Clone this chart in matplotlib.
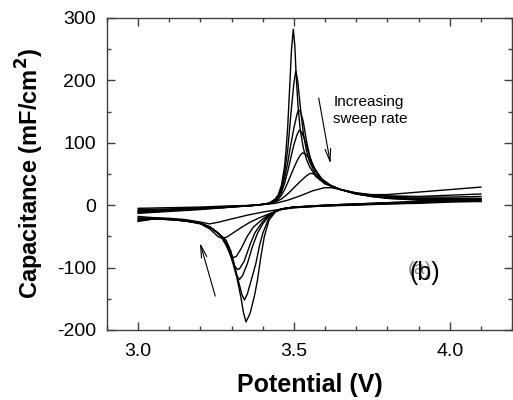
import matplotlib
matplotlib.use('Agg')
import matplotlib.pyplot as plt
from matplotlib.ticker import MultipleLocator, FormatStrFormatter

plt.rcParams['font.family'] = ['Liberation Sans', 'DejaVu Sans']
plt.rcParams['axes.unicode_minus'] = False

# forward (anodic) sweeps, 3.0 -> 4.1 V; one list per sweep rate (slow -> fast)
fwd_x = [
    [3.00, 3.10, 3.20, 3.30, 3.38, 3.42, 3.44, 3.45, 3.46, 3.47, 3.475, 3.48, 3.487, 3.492, 3.498, 3.503, 3.507,
     3.513, 3.52, 3.53, 3.54, 3.55, 3.57, 3.60, 3.65, 3.70, 3.75, 3.80, 3.90, 4.00, 4.10],
    [3.00, 3.10, 3.20, 3.30, 3.38, 3.42, 3.44, 3.45, 3.46, 3.47, 3.48, 3.49, 3.50, 3.506, 3.512, 3.52, 3.53,
     3.54, 3.55, 3.57, 3.60, 3.65, 3.70, 3.75, 3.80, 3.90, 4.00, 4.10],
    [3.00, 3.10, 3.20, 3.30, 3.38, 3.42, 3.44, 3.45, 3.46, 3.47, 3.48, 3.49, 3.50, 3.51, 3.515, 3.521, 3.53,
     3.54, 3.55, 3.56, 3.58, 3.60, 3.65, 3.70, 3.75, 3.80, 3.90, 4.00, 4.10],
    [3.00, 3.10, 3.20, 3.30, 3.38, 3.42, 3.44, 3.45, 3.46, 3.47, 3.48, 3.49, 3.50, 3.51, 3.517, 3.525, 3.535,
     3.545, 3.555, 3.57, 3.59, 3.62, 3.65, 3.70, 3.75, 3.80, 3.90, 4.00, 4.10],
    [3.00, 3.10, 3.20, 3.30, 3.38, 3.42, 3.44, 3.45, 3.46, 3.47, 3.48, 3.49, 3.50, 3.51, 3.52, 3.528, 3.537,
     3.547, 3.557, 3.57, 3.59, 3.62, 3.65, 3.70, 3.75, 3.80, 3.90, 4.00, 4.10],
    [3.00, 3.10, 3.20, 3.30, 3.38, 3.42, 3.44, 3.46, 3.48, 3.50, 3.52, 3.54, 3.552, 3.565, 3.58, 3.60, 3.62,
     3.65, 3.70, 3.75, 3.80, 3.90, 4.00, 4.10],
    [3.00, 3.10, 3.20, 3.30, 3.38, 3.42, 3.44, 3.48, 3.52, 3.56, 3.597, 3.62, 3.64, 3.67, 3.70, 3.75, 3.80,
     3.90, 4.00, 4.10],
]
fwd_y = [
    [-13, -10, -7, -3, 0, 3, 10, 17, 32, 62, 90, 125, 195, 248, 282, 255, 210,
     160, 122, 92, 74, 62, 46, 34, 25, 20, 17, 17, 21, 25, 29],
    [-12, -9, -6, -3, 0, 3, 9, 15, 28, 52, 88, 145, 196, 215, 200, 160, 116,
     88, 70, 49, 35, 25, 19, 16, 15, 14, 16, 18],
    [-11, -8, -6, -3, 0, 3, 8, 14, 25, 43, 68, 97, 124, 146, 153, 150, 134,
     104, 80, 64, 46, 36, 25, 19, 15, 14, 13, 13, 14],
    [-10, -8, -5, -2, 0, 3, 7, 12, 21, 35, 54, 76, 97, 113, 120, 117, 104,
     87, 72, 55, 41, 31, 25, 18, 15, 13, 11, 11, 11],
    [-9, -7, -5, -2, 0, 3, 6, 10, 16, 25, 36, 48, 60, 71, 80, 84, 82,
     76, 67, 56, 42, 31, 25, 18, 14, 12, 10, 9, 9],
    [-7, -6, -4, -2, 0, 2, 5, 10, 18, 28, 38, 47, 51, 50, 44, 36, 30,
     25, 18, 14, 11, 9, 8, 7],
    [-5, -4, -3, -1, 0, 2, 3, 8, 15, 23, 28, 28, 26, 23, 19, 14, 11,
     8, 7, 6],
]

# reverse (cathodic) sweeps, 4.1 -> 3.0 V
rev_x = [
    [4.10, 4.00, 3.90, 3.80, 3.70, 3.60, 3.50, 3.46, 3.44, 3.42, 3.405, 3.394, 3.383, 3.373, 3.36, 3.355, 3.346,
     3.338, 3.33, 3.314, 3.298, 3.282, 3.26, 3.23, 3.20, 3.15, 3.10, 3.05, 3.00],
    [4.10, 4.00, 3.90, 3.80, 3.70, 3.60, 3.50, 3.46, 3.44, 3.42, 3.40, 3.389, 3.378, 3.362, 3.35, 3.341, 3.333,
     3.32, 3.305, 3.29, 3.275, 3.26, 3.23, 3.20, 3.15, 3.10, 3.05, 3.00],
    [4.10, 4.00, 3.90, 3.80, 3.70, 3.60, 3.50, 3.46, 3.44, 3.42, 3.40, 3.383, 3.367, 3.351, 3.335, 3.325, 3.315,
     3.30, 3.285, 3.27, 3.25, 3.23, 3.20, 3.15, 3.10, 3.05, 3.00],
    [4.10, 4.00, 3.90, 3.80, 3.70, 3.60, 3.50, 3.46, 3.44, 3.42, 3.40, 3.375, 3.36, 3.34, 3.325, 3.319, 3.31,
     3.295, 3.28, 3.265, 3.25, 3.23, 3.20, 3.15, 3.10, 3.05, 3.00],
    [4.10, 4.00, 3.90, 3.80, 3.70, 3.60, 3.50, 3.46, 3.44, 3.42, 3.40, 3.37, 3.35, 3.33, 3.315, 3.306, 3.296,
     3.28, 3.265, 3.25, 3.23, 3.20, 3.15, 3.10, 3.05, 3.00],
    [4.10, 4.00, 3.90, 3.80, 3.70, 3.60, 3.50, 3.46, 3.43, 3.39, 3.36, 3.33, 3.30, 3.285, 3.271, 3.258, 3.245,
     3.23, 3.20, 3.15, 3.10, 3.05, 3.00],
    [4.10, 4.00, 3.90, 3.80, 3.70, 3.60, 3.50, 3.45, 3.40, 3.35, 3.30, 3.26, 3.229, 3.20, 3.15, 3.10, 3.05, 3.00],
]
rev_y = [
    [10, 8, 6, 4, 2, 0, -3, -6, -11, -24, -50, -82, -120, -146, -172, -178, -187,
     -172, -148, -109, -74, -56, -46, -35, -29, -25, -23, -22, -24],
    [10, 8, 6, 4, 2, 0, -3, -6, -10, -20, -45, -66, -93, -122, -143, -152, -143,
     -118, -88, -66, -53, -46, -35, -29, -25, -23, -22, -26],
    [9, 7, 5, 3, 2, 0, -3, -6, -10, -17, -30, -45, -66, -93, -113, -119, -112,
     -86, -64, -52, -42, -35, -29, -25, -23, -22, -25],
    [9, 7, 5, 3, 1, -1, -3, -6, -10, -16, -26, -44, -62, -90, -102, -103, -98,
     -78, -60, -49, -42, -35, -29, -25, -23, -21, -23],
    [8, 6, 4, 3, 1, -1, -3, -6, -10, -15, -22, -35, -50, -70, -82, -84, -78,
     -62, -50, -42, -35, -29, -25, -22, -21, -22],
    [7, 6, 4, 2, 1, -1, -4, -7, -12, -20, -27, -36, -46, -51, -53, -51, -45,
     -38, -30, -25, -22, -21, -20],
    [6, 5, 3, 2, 0, -1, -4, -7, -11, -16, -22, -27, -30, -27, -23, -21, -20, -18],
]

fig = plt.figure(figsize=(5.13, 4.0), dpi=100)
ax = fig.add_axes([107 / 513, 70 / 400, 405 / 513, 312 / 400])

for i in range(len(fwd_x)):
    ax.plot(fwd_x[i], fwd_y[i], color='black', lw=1.0)
    ax.plot(rev_x[i], rev_y[i], color='black', lw=1.0)

ax.set_xlim(2.9, 4.2)
ax.set_ylim(-200, 300)
ax.xaxis.set_major_locator(MultipleLocator(0.5))
ax.xaxis.set_minor_locator(MultipleLocator(0.1))
ax.xaxis.set_major_formatter(FormatStrFormatter('%.1f'))
ax.yaxis.set_major_locator(MultipleLocator(100))
ax.yaxis.set_minor_locator(MultipleLocator(50))
ax.tick_params(which='both', direction='in', top=True, right=True, labelsize=14, color='0.25')
ax.tick_params(which='major', length=6, width=1)
ax.tick_params(which='minor', length=3, width=1)
ax.tick_params(axis='x', pad=9)
ax.tick_params(axis='y', pad=8)
for sp in ax.spines.values():
    sp.set_color('0.25')
    sp.set_linewidth(1)

ax.set_xlabel('Potential (V)', fontsize=18, fontweight='bold', labelpad=10)
ax.set_ylabel('Capacitance (mF/cm$^\\mathbf{2}$)', fontsize=17, fontweight='bold', labelpad=8)

ax.text(3.626, 176, 'Increasing\nsweep rate', fontsize=11, va='top', ha='left', linespacing=1.2)
ax.annotate('', xy=(3.619, 62), xytext=(3.578, 176),
            arrowprops=dict(arrowstyle='->,head_length=0.9,head_width=0.2', color='black', lw=0.8))
ax.annotate('', xy=(3.196, -56), xytext=(3.25, -150),
            arrowprops=dict(arrowstyle='->,head_length=0.9,head_width=0.2', color='black', lw=0.8))

ax.text(3.905, -103, '(a)', fontsize=14, color='0.55', ha='center', va='center')
ax.text(3.92, -108, '(b)', fontsize=18, color='black', ha='center', va='center')

fig.savefig('out.png', dpi=100)
